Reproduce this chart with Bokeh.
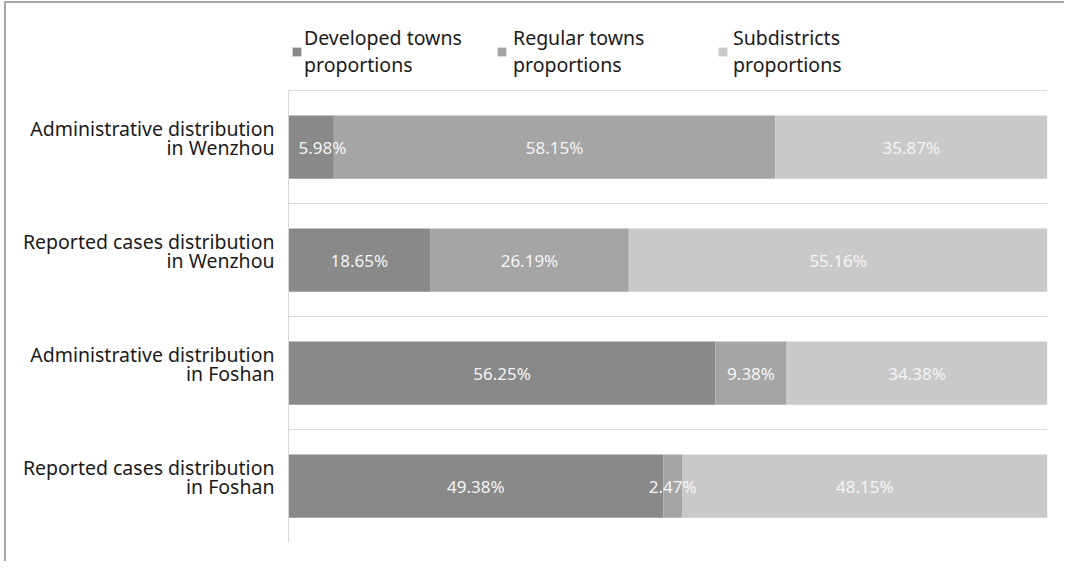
from bokeh.plotting import figure
from bokeh.models import ColumnDataSource, Range1d, FixedTicker, Legend, LegendItem, Grid
from bokeh.core.properties import value
from bokeh.embed import file_html
from bokeh.resources import INLINE

categories = [
    "Administrative distribution\nin Wenzhou",
    "Reported cases distribution\nin Wenzhou",
    "Administrative distribution\nin Foshan",
    "Reported cases distribution\nin Foshan",
]
developed = [5.98, 18.65, 56.25, 49.38]
regular = [58.15, 26.19, 9.38, 2.47]
subdistricts = [35.87, 55.16, 34.38, 48.15]
series_names = ["Developed towns\nproportions", "Regular towns\nproportions", "Subdistricts\nproportions"]
colors = ["#898989", "#a5a5a5", "#c9c9c9"]

FONT = "Noto Sans"
n = len(categories)
ypos = [i + 0.5 for i in range(n)]
LABEL_SHIFT = 0.08   # category labels sit slightly above bar centres
TOP_SPACE = 0.7      # room above the first category for the legend

p = figure(width=1060, height=560, output_backend="svg", toolbar_location=None,
           x_range=Range1d(0, 100), y_range=Range1d(n, -TOP_SPACE),
           min_border_left=282, min_border_right=19, min_border_top=8, min_border_bottom=21)
p.background_fill_color = "white"
p.border_fill_color = "white"
p.outline_line_color = None
p.styles = {"border-left": "2px solid #a6a6a6", "border-top": "2px solid #a6a6a6",
            "margin-left": "4px", "margin-top": "1px"}

series = [developed, regular, subdistricts]
renderers = []
sources = []
left = [0.0] * n
for vals, name, col in zip(series, series_names, colors):
    right = [l + v for l, v in zip(left, vals)]
    mids, aligns, offs = [], [], []
    for l, r in zip(left, right):
        if l == 0 and (r - l) < 7:
            mids.append(l); aligns.append("left"); offs.append(10)
        else:
            mids.append((l + r) / 2); aligns.append("center"); offs.append(0)
    src = ColumnDataSource(dict(y=ypos, left=left, right=right, mid=mids,
                                align=aligns, xo=offs,
                                lab=[f"{v:.2f}%" for v in vals]))
    r = p.hbar(y="y", left="left", right="right", height=0.56, source=src,
               fill_color=col, line_color=None)
    renderers.append(r)
    sources.append(src)
    left = right

for src in sources:
    p.text(x="mid", y="y", text="lab", source=src, text_align="align", x_offset="xo",
           text_baseline="middle", text_color="#f5f5f5",
           text_font=value(FONT), text_font_size="17px")

p.xaxis.visible = False
p.xgrid.visible = False
p.ygrid.visible = False
grid = Grid(dimension=1, ticker=FixedTicker(ticks=list(range(n + 1))),
            grid_line_color="#d9d9d9", grid_line_width=1)
p.add_layout(grid)

ya = p.yaxis[0]
ticks = [y - LABEL_SHIFT for y in ypos]
ya.ticker = FixedTicker(ticks=ticks)
ya.major_label_overrides = {t: c for t, c in zip(ticks, categories)}
ya.bounds = (0, n)
ya.axis_line_color = "#d9d9d9"
ya.major_tick_line_color = None
ya.minor_tick_line_color = None
ya.major_tick_out = 0
ya.major_tick_in = 0
ya.major_label_standoff = 14
ya.major_label_text_font = FONT
ya.major_label_text_font_size = "19.5px"
ya.major_label_text_color = "#1a1a1a"
ya.major_label_text_line_height = 0.68

xlocs = [3, 208, 429]
standoffs = [2, 6, 5]
for r, name, xl, so in zip(renderers, series_names, xlocs, standoffs):
    lg = Legend(items=[LegendItem(label=name, renderers=[r])], location=(xl, 464),
                padding=0, margin=0, border_line_color=None, background_fill_alpha=0,
                glyph_width=11, glyph_height=11, label_standoff=so,
                label_text_font=FONT, label_text_font_size="19.5px",
                label_text_color="#1a1a1a", label_text_line_height=0.75)
    p.add_layout(lg, "center")

open("out.html", "w").write(file_html(p, INLINE))
